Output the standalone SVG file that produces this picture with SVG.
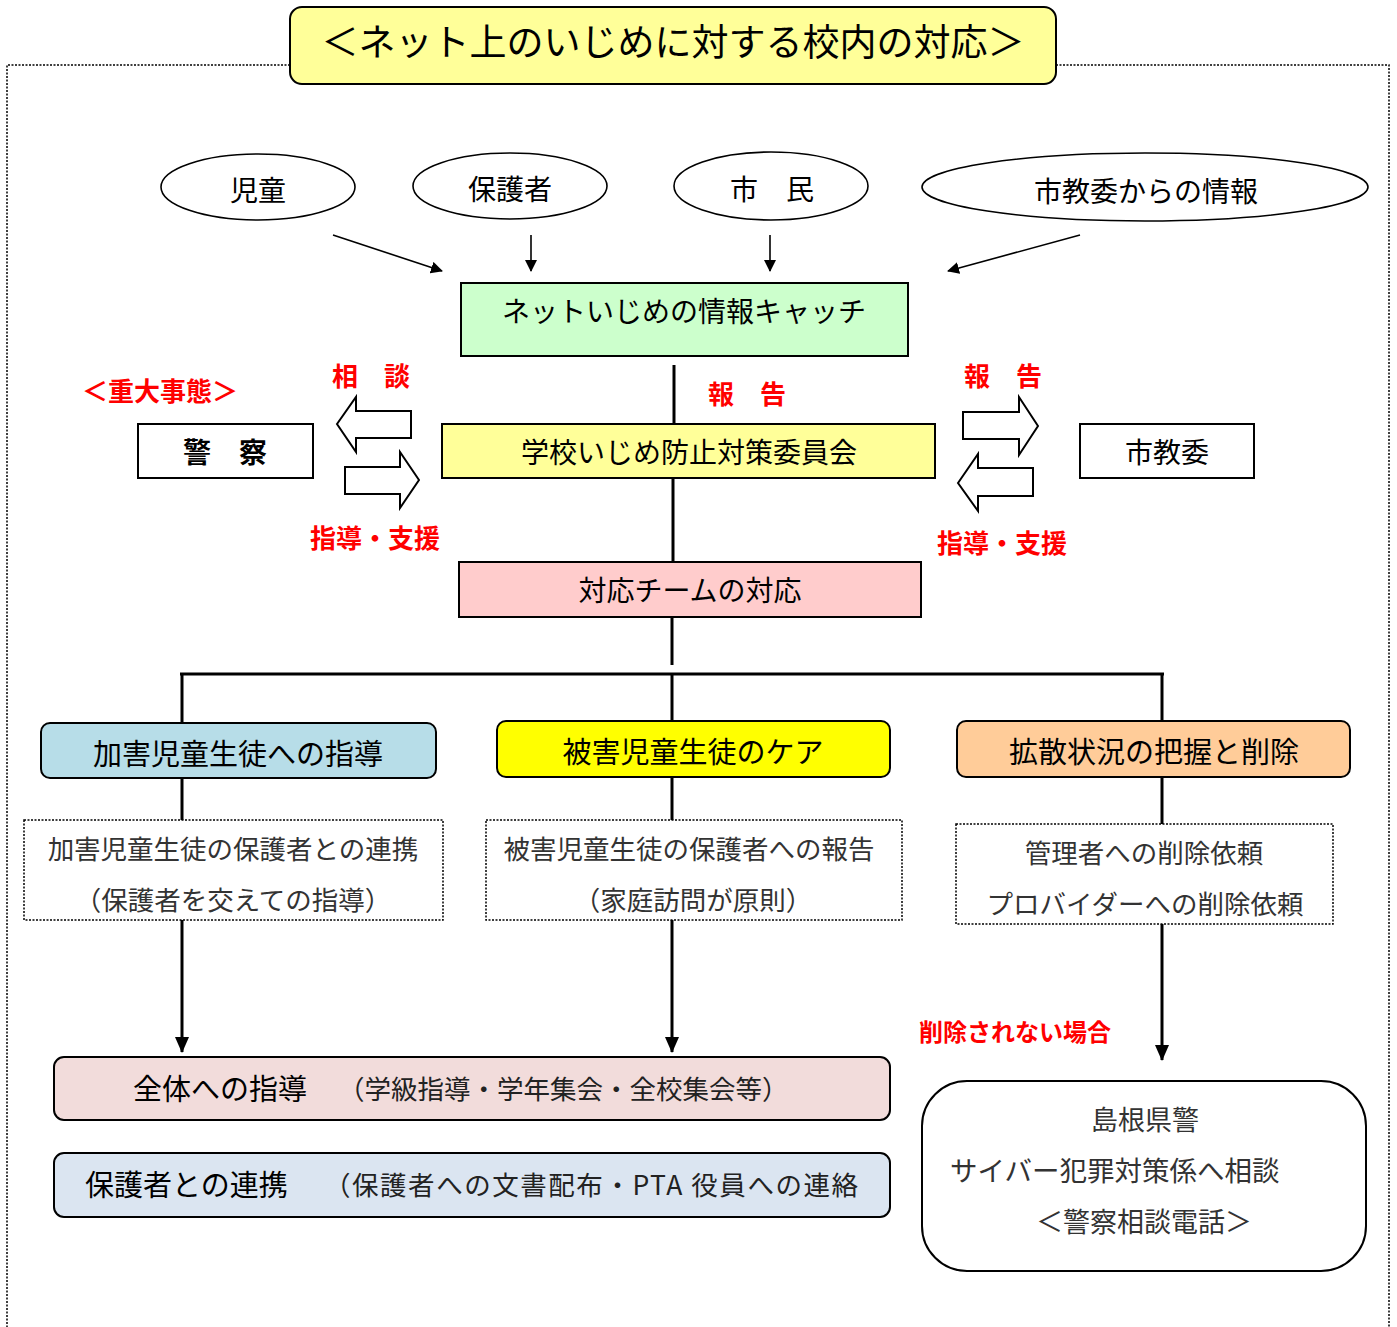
<svg xmlns="http://www.w3.org/2000/svg" width="1397" height="1327" viewBox="0 0 1397 1327">
<style>
text{font-family:"Noto Sans CJK JP","Noto Sans CJK SC",sans-serif;dominant-baseline:central;text-anchor:middle;fill:#000}
.t26{font-size:27px}
.t28{font-size:28px}
.t29{font-size:29px}
.red{fill:#FF0000;font-weight:bold;font-size:26px}
.gray{fill:#333;font-size:26.5px}
.box{stroke:#000;stroke-width:2}
.dot{fill:#fff;stroke:#000;stroke-width:1.5;stroke-dasharray:2 1.5}
.ln{stroke:#000;stroke-width:3;fill:none}
.thin{stroke:#000;stroke-width:1.6;fill:none}
.blk{fill:#fff;stroke:#000;stroke-width:2;stroke-linejoin:miter}
</style>
<defs>
<marker id="ah" markerWidth="12" markerHeight="12" refX="11" refY="6" orient="auto" markerUnits="userSpaceOnUse">
<path d="M0,0 L12,6 L0,12 Z" fill="#000"/>
</marker>
<marker id="ah2" markerWidth="16" markerHeight="14" refX="15" refY="7" orient="auto" markerUnits="userSpaceOnUse">
<path d="M0,0 L16,7 L0,14 Z" fill="#000"/>
</marker>
</defs>
<rect width="1397" height="1327" fill="#fff"/>
<path d="M290,65 H7 V1327 M1056,65 H1389 V1327" fill="none" stroke="#000" stroke-width="1.5" stroke-dasharray="2 1.5"/>

<g id="title">
<rect x="290" y="7" width="766" height="77" rx="12" fill="#FFFF99" class="box"/>
<text x="673" y="40" style="font-size:37px">＜ネット上のいじめに対する校内の対応＞</text>
</g>

<g id="connectors">
<line x1="333" y1="235" x2="442" y2="271" class="thin" marker-end="url(#ah)"/>
<line x1="531" y1="235" x2="531" y2="271" class="thin" marker-end="url(#ah)"/>
<line x1="770" y1="235" x2="770" y2="271" class="thin" marker-end="url(#ah)"/>
<line x1="1080" y1="235" x2="948" y2="271" class="thin" marker-end="url(#ah)"/>
<line x1="674" y1="365" x2="674" y2="424" class="ln"/>
<line x1="673" y1="478" x2="673" y2="562" class="ln"/>
<line x1="672" y1="617" x2="672" y2="665" class="ln"/>
<line x1="180" y1="674" x2="1164" y2="674" class="ln"/>
<line x1="182" y1="674" x2="182" y2="723" class="ln"/>
<line x1="672" y1="674" x2="672" y2="721" class="ln"/>
<line x1="1162" y1="674" x2="1162" y2="721" class="ln"/>
<line x1="182" y1="778" x2="182" y2="820" class="ln"/>
<line x1="672" y1="777" x2="672" y2="820" class="ln"/>
<line x1="1162" y1="777" x2="1162" y2="824" class="ln"/>
<line x1="182" y1="920" x2="182" y2="1052" class="ln" marker-end="url(#ah2)"/>
<line x1="672" y1="920" x2="672" y2="1052" class="ln" marker-end="url(#ah2)"/>
<line x1="1162" y1="924" x2="1162" y2="1060" class="ln" marker-end="url(#ah2)"/>
<polygon class="blk" points="337,424 356,397 356,411 411,411 411,438 356,438 356,452"/>
<polygon class="blk" points="419,480 400,452 400,467 345,467 345,494 400,494 400,508"/>
<polygon class="blk" points="1038,426 1019,397 1019,412 963,412 963,439 1019,439 1019,455"/>
<polygon class="blk" points="958,483 978,454 978,468 1033,468 1033,496 978,496 978,511"/>
</g>

<g id="n-jido">
<ellipse cx="258" cy="187" rx="97" ry="33" fill="#fff" class="thin"/>
<text x="258" y="189" class="t28">児童</text>
</g>
<g id="n-hogosha">
<ellipse cx="510" cy="186" rx="97" ry="33" fill="#fff" class="thin"/>
<text x="510" y="188" class="t28">保護者</text>
</g>
<g id="n-shimin">
<ellipse cx="771" cy="186" rx="97" ry="34" fill="#fff" class="thin"/>
<text x="772" y="188" class="t28">市　民</text>
</g>
<g id="n-shikyoi-info">
<ellipse cx="1145" cy="187" rx="223" ry="34" fill="#fff" class="thin"/>
<text x="1146" y="190" class="t28">市教委からの情報</text>
</g>

<g id="n-catch">
<rect x="461" y="283" width="447" height="73" fill="#CCFFCC" class="box"/>
<text x="684" y="310" class="t28">ネットいじめの情報キャッチ</text>
</g>
<g id="n-committee">
<rect x="442" y="424" width="493" height="54" fill="#FFFF99" class="box"/>
<text x="689" y="451" class="t28">学校いじめ防止対策委員会</text>
</g>
<g id="n-team">
<rect x="459" y="562" width="462" height="55" fill="#FFCCCC" class="box"/>
<text x="690" y="589" class="t28">対応チームの対応</text>
</g>
<g id="n-police">
<rect x="138" y="424" width="175" height="54" fill="#fff" class="box"/>
<text x="225" y="451" class="t28" style="font-weight:bold">警　察</text>
</g>
<g id="n-shikyoi">
<rect x="1080" y="424" width="174" height="54" fill="#fff" class="box"/>
<text x="1167" y="451" class="t28">市教委</text>
</g>

<g id="labels">
<text x="160" y="389" class="red">＜重大事態＞</text>
<text x="371" y="374" class="red">相　談</text>
<text x="747" y="392" class="red">報　告</text>
<text x="375" y="536" class="red">指導・支援</text>
<text x="1003" y="374" class="red">報　告</text>
<text x="1002" y="541" class="red">指導・支援</text>
<text x="1015" y="1030" class="red" style="font-size:24px">削除されない場合</text>
</g>

<g id="n-kagai">
<rect x="41" y="723" width="395" height="55" rx="9" fill="#B7DDE8" class="box"/>
<text x="238" y="752" class="t29">加害児童生徒への指導</text>
</g>
<g id="n-higai">
<rect x="497" y="721" width="393" height="56" rx="9" fill="#FFFF00" class="box"/>
<text x="693" y="750" class="t29">被害児童生徒のケア</text>
</g>
<g id="n-kakusan">
<rect x="957" y="721" width="393" height="56" rx="9" fill="#FFCC99" class="box"/>
<text x="1154" y="750" class="t29">拡散状況の把握と削除</text>
</g>

<g id="n-kagai-sub">
<rect x="24" y="820" width="419" height="100" class="dot"/>
<text x="233" y="847" class="gray">加害児童生徒の保護者との連携</text>
<text x="233" y="898" class="gray">（保護者を交えての指導）</text>
</g>
<g id="n-higai-sub">
<rect x="486" y="820" width="416" height="100" class="dot"/>
<text x="689" y="847" class="gray">被害児童生徒の保護者への報告</text>
<text x="693" y="898" class="gray">（家庭訪問が原則）</text>
</g>
<g id="n-kakusan-sub">
<rect x="956" y="824" width="377" height="100" class="dot"/>
<text x="1144" y="851" class="gray">管理者への削除依頼</text>
<text x="1145" y="902" class="gray">プロバイダーへの削除依頼</text>
</g>

<g id="n-zentai">
<rect x="54" y="1057" width="836" height="63" rx="10" fill="#F2DCDB" class="box"/>
<text x="133" y="1087" class="t29" style="text-anchor:start">全体への指導</text>
<text x="338" y="1087" class="gray" style="text-anchor:start;fill:#222">（学級指導・学年集会・全校集会等）</text>
</g>
<g id="n-renkei">
<rect x="54" y="1153" width="836" height="64" rx="10" fill="#DBE5F1" class="box"/>
<text x="85" y="1183" class="t29" style="text-anchor:start">保護者との連携</text>
<text x="324" y="1183" class="gray" style="text-anchor:start;fill:#222" textLength="534" lengthAdjust="spacing">（保護者への文書配布・PTA 役員への連絡</text>
</g>

<g id="n-kenkei">
<rect x="922" y="1081" width="444" height="190" rx="45" fill="#fff" class="box"/>
<text x="1145" y="1118" class="gray" style="font-size:27px">島根県警</text>
<text x="950" y="1169" class="gray" style="font-size:27.5px;text-anchor:start">サイバー犯罪対策係へ相談</text>
<text x="1144" y="1220" class="gray" style="font-size:27px">＜警察相談電話＞</text>
</g>
</svg>
